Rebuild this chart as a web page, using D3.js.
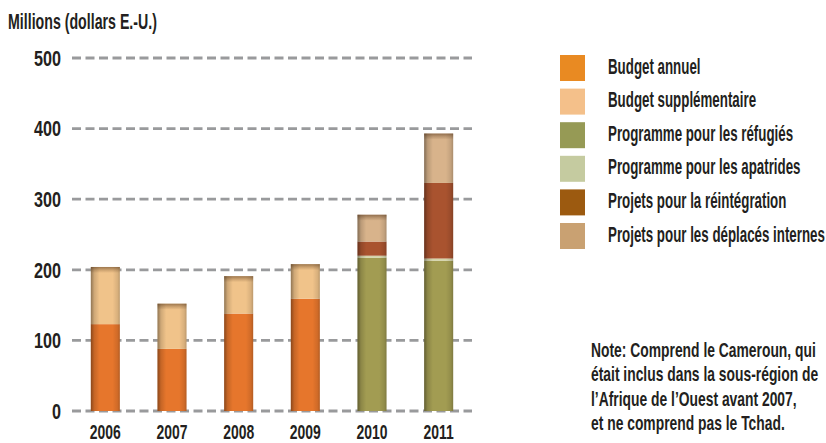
<!DOCTYPE html>
<html><head><meta charset="utf-8">
<script src="https://cdn.jsdelivr.net/npm/d3@7/dist/d3.min.js"></script>
<style>
body{margin:0;background:#fff;}
svg text{font-family:"Liberation Sans",Arial,sans-serif;font-weight:bold;fill:#231f20;}
</style></head>
<body><svg id="c" width="826" height="443"></svg>
<script>
const years = ["2006","2007","2008","2009","2010","2011"];
const legendLabels = ["Budget annuel","Budget supplémentaire","Programme pour les réfugiés","Programme pour les apatrides","Projets pour la réintégration","Projets pour les déplacés internes"];
const annual      = [123, 88, 138, 159, 0, 0];
const supplement  = [81, 64, 53, 49, 0, 0];
const refugees    = [0, 0, 0, 0, 217, 213];
const stateless   = [0, 0, 0, 0, 3, 3];
const reintegration = [0, 0, 0, 0, 20, 107];
const idp         = [0, 0, 0, 0, 38, 70];
const yTicks = [0, 100, 200, 300, 400, 500];
const barColors = ["#e6762c","#f0c38a","#a29c52","#d4d4a8","#a9532f","#d8b38b"];
const legendColors = ["#e98a22","#f4c08a","#969a55","#c5cba0","#9c5a10","#c9a172"];
const noteLines = ["Note: Comprend le Cameroun, qui","était inclus dans la sous-région de","l’Afrique de l’Ouest avant 2007,","et ne comprend pas le Tchad."];
const yTitle = "Millions (dollars E.-U.)";

const svg = d3.select("#c");
const defs = svg.append("defs");
const g1 = defs.append("linearGradient").attr("id","shade").attr("x1","0").attr("x2","1").attr("y1","0").attr("y2","0");
[[0,0.4],[0.12,0.14],[0.3,0],[0.75,0],[0.92,0.1],[1,0.22]].forEach(([o,a])=>g1.append("stop").attr("offset",o).attr("stop-color","#000").attr("stop-opacity",a));
const g2 = defs.append("linearGradient").attr("id","cap").attr("x1","0").attr("x2","0").attr("y1","0").attr("y2","1");
[[0,0.5],[0.5,0.22],[1,0]].forEach(([o,a])=>g2.append("stop").attr("offset",o).attr("stop-color","#4a2a10").attr("stop-opacity",a));

function condense(sel, factor){
  sel.each(function(){
    const t = d3.select(this);
    const x0 = +t.attr("x"), y0 = +t.attr("y");
    t.attr("x",0).attr("y",0).attr("transform",`translate(${x0},${y0}) scale(${factor},1)`);
  });
}
function fitFactor(sel, target){ return target / sel.node().getComputedTextLength(); }

const x = d3.scaleBand().domain(years).range([72,472]).paddingInner(0.565).paddingOuter(0.2825);
const y = d3.scaleLinear().domain([0,500]).range([411,58]);

svg.append("g").selectAll("line").data(yTicks).join("line")
  .attr("x1",72).attr("x2",472).attr("y1",d=>y(d)).attr("y2",d=>y(d))
  .attr("stroke","#999a9c").attr("stroke-width",2.8).attr("stroke-dasharray","9,4.5");

const yl = svg.append("g").selectAll("text").data(yTicks).join("text")
  .attr("x",61).attr("y",d=>y(d)+7.8).attr("text-anchor","end")
  .attr("font-size",21.5).text(d=>d);
condense(yl, fitFactor(yl.filter(d=>d===500), 27));

const tt = svg.append("text").attr("x",8).attr("y",29).attr("font-size",22).text(yTitle);
condense(tt, fitFactor(tt, 149));

const table = years.map((yr,i)=>({year:yr, s0:annual[i], s1:supplement[i], s2:refugees[i], s3:stateless[i], s4:reintegration[i], s5:idp[i]}));
const keys = ["s0","s1","s2","s3","s4","s5"];
const stack = d3.stack().keys(keys)(table);

const bars = svg.append("g");
stack.forEach((layer,k)=>{
  bars.append("g").attr("fill",barColors[k]).selectAll("rect").data(layer.filter(d=>d[1]-d[0]>0)).join("rect")
    .attr("x",d=>x(d.data.year)).attr("width",x.bandwidth())
    .attr("y",d=>y(d[1])).attr("height",d=>y(d[0])-y(d[1]));
});
const totals = table.map(d=>keys.reduce((s,k)=>s+d[k],0));
bars.append("g").selectAll("rect").data(table).join("rect")
  .attr("x",d=>x(d.year)).attr("width",x.bandwidth())
  .attr("y",(d,i)=>y(totals[i])).attr("height",(d,i)=>y(0)-y(totals[i]))
  .attr("fill","url(#shade)");
bars.append("g").selectAll("rect").data(table).join("rect")
  .attr("x",d=>x(d.year)).attr("width",x.bandwidth())
  .attr("y",(d,i)=>y(totals[i])).attr("height",6)
  .attr("fill","url(#cap)");

const xl = svg.append("g").selectAll("text").data(years).join("text")
  .attr("x",d=>x(d)+x.bandwidth()/2).attr("y",438.5).attr("text-anchor","middle")
  .attr("font-size",21).text(d=>d);
condense(xl, fitFactor(xl.filter(d=>d==="2006"), 31));

const lg = svg.append("g");
legendLabels.forEach((t,i)=>{
  const yy = 55 + i*33.6;
  lg.append("rect").attr("x",560).attr("y",yy).attr("width",25).attr("height",26).attr("fill",legendColors[i]);
});
const lt = lg.selectAll("text").data(legendLabels).join("text")
  .attr("x",608).attr("y",(d,i)=>55 + i*33.6 + 18.5).attr("font-size",22.5).text(d=>d);
condense(lt, fitFactor(lt.filter((d,i)=>i===5), 217));

const nt = svg.append("g").selectAll("text").data(noteLines).join("text")
  .attr("x",591).attr("y",(d,i)=>357+i*24.4).attr("font-size",19.5).text(d=>d);
condense(nt, fitFactor(nt.filter((d,i)=>i===0), 225));
</script></body></html>
